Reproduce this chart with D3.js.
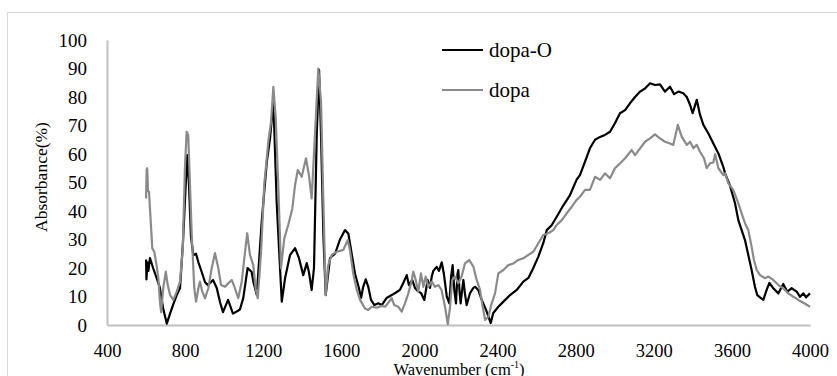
<!DOCTYPE html>
<html>
<head>
<meta charset="utf-8">
<script src="https://cdn.jsdelivr.net/npm/d3@7"></script>
<style>
    body { margin: 0; background: #fff; }
    #chart { width: 837px; height: 376px; }
</style>
</head>
<body>
<div id="chart"></div>
<script>
//VARIABLES
let seriesNames = ['dopa-O', 'dopa'];
let colors = ['#000000', '#8a8a8a'];
let xTicks = [400, 800, 1200, 1600, 2000, 2400, 2800, 3200, 3600, 4000];
let yTicks = [0, 10, 20, 30, 40, 50, 60, 70, 80, 90, 100];

//dopa-O: wavenumber / absorbance
let dopaOWn = [600, 602, 607, 612, 620, 636, 654, 671, 687, 706, 723, 738, 757, 774, 789, 803, 811, 820, 830, 842, 856, 868, 885, 902, 917, 943, 962, 979, 994, 1020, 1045, 1071, 1081, 1098, 1120, 1141, 1150, 1167, 1192, 1218, 1235, 1252, 1269, 1286, 1295, 1312, 1337, 1363, 1383, 1405, 1423, 1434, 1448, 1460, 1474, 1486, 1496, 1508, 1520, 1542, 1568, 1593, 1619, 1636, 1653, 1670, 1690, 1701, 1712, 1725, 1738, 1752, 1769, 1789, 1807, 1832, 1858, 1884, 1900, 1917, 1935, 1946, 1963, 1977, 1990, 2008, 2025, 2042, 2054, 2063, 2071, 2088, 2100, 2114, 2125, 2140, 2153, 2162, 2170, 2179, 2187, 2195, 2199, 2205, 2211, 2218, 2225, 2233, 2242, 2259, 2276, 2285, 2301, 2319, 2341, 2353, 2365, 2378, 2404, 2430, 2464, 2498, 2532, 2558, 2583, 2609, 2634, 2652, 2677, 2703, 2737, 2771, 2805, 2822, 2848, 2873, 2899, 2925, 2950, 2976, 3001, 3027, 3053, 3078, 3104, 3130, 3155, 3181, 3206, 3232, 3257, 3283, 3304, 3326, 3351, 3369, 3386, 3399, 3420, 3437, 3454, 3479, 3505, 3531, 3556, 3565, 3590, 3616, 3633, 3650, 3667, 3684, 3701, 3718, 3730, 3744, 3761, 3778, 3792, 3812, 3838, 3863, 3884, 3906, 3932, 3949, 3966, 3980, 4000];
let dopaOVal = [23, 16, 22, 19, 23.5, 20, 16.5, 13, 6, 0.5, 4, 7, 10.5, 13, 29, 49, 59.6, 49, 31, 24.5, 25, 22, 18.6, 15, 14, 15.8, 13, 8, 4.5, 8.8, 4, 5, 5.5, 9.5, 20, 18.6, 15, 10.5, 36, 57, 65.6, 78.4, 43, 20, 8.2, 16.5, 24.5, 27, 23.5, 17.5, 21.7, 18.6, 12.3, 20, 66.7, 89.5, 66.7, 31.6, 10.5, 23.5, 25, 30, 33.3, 32, 25, 18, 13, 9.5, 13.4, 16, 13.4, 8.8, 7, 7.6, 7, 9.5, 10.5, 11.6, 12.3, 14.7, 17.5, 14, 15.8, 13, 12, 11.2, 8.8, 15.8, 13, 17, 19, 20.4, 19, 22, 18, 10, 7.6, 17, 21, 12, 7.6, 18, 19.3, 12, 7.6, 12, 15.8, 11, 7, 11.2, 13, 13.4, 12.3, 8.8, 5.3, 3, 0.7, 4.2, 6.4, 8.2, 10.5, 12.3, 15.2, 16.5, 20, 24, 28.7, 33.3, 35, 38, 42, 45.6, 51, 52.6, 57.3, 62, 65, 66, 66.7, 67.8, 70.8, 74.3, 75.4, 77.8, 80, 81.9, 83, 84.8, 84.2, 84.4, 81.9, 83.6, 81, 81.9, 81.3, 80, 77.2, 74.3, 79, 73.7, 70.2, 67.3, 63.7, 60.2, 55.5, 53.2, 49, 42.7, 36.8, 33.3, 29.8, 24.6, 19.3, 13.4, 10.5, 9.7, 8.8, 12.3, 14.8, 12.9, 11.1, 14.4, 11.7, 12.9, 11.7, 9.9, 11.1, 9.7, 11.1];

//dopa: wavenumber / absorbance
let dopaWn = [600, 603, 606, 610, 615, 624, 632, 642, 654, 663, 671, 677, 688, 701, 711, 723, 740, 757, 774, 788, 799, 808, 816, 825, 834, 847, 856, 868, 876, 888, 902, 919, 936, 953, 970, 984, 1004, 1021, 1039, 1055, 1072, 1090, 1107, 1118, 1132, 1149, 1161, 1172, 1189, 1205, 1226, 1240, 1252, 1264, 1277, 1291, 1308, 1328, 1349, 1363, 1377, 1397, 1419, 1434, 1448, 1465, 1482, 1496, 1508, 1520, 1533, 1551, 1576, 1593, 1610, 1633, 1644, 1661, 1679, 1696, 1721, 1738, 1755, 1781, 1807, 1824, 1840, 1858, 1871, 1892, 1909, 1926, 1943, 1957, 1969, 1981, 1994, 2008, 2020, 2032, 2045, 2063, 2080, 2097, 2113, 2131, 2145, 2157, 2168, 2182, 2199, 2216, 2233, 2255, 2276, 2293, 2310, 2324, 2336, 2353, 2370, 2387, 2404, 2430, 2455, 2481, 2506, 2532, 2558, 2583, 2609, 2634, 2660, 2686, 2703, 2729, 2754, 2780, 2805, 2822, 2848, 2873, 2899, 2925, 2950, 2976, 3001, 3027, 3053, 3087, 3104, 3130, 3155, 3181, 3206, 3232, 3257, 3283, 3300, 3323, 3343, 3369, 3386, 3403, 3420, 3437, 3457, 3471, 3488, 3505, 3514, 3531, 3556, 3565, 3582, 3607, 3633, 3650, 3667, 3684, 3701, 3713, 3727, 3744, 3770, 3787, 3812, 3838, 3863, 3889, 3915, 3940, 3966, 4000];
let dopaVal = [44.4, 54.5, 55, 47, 46.8, 36.2, 26.9, 25.7, 21, 16.4, 8.2, 4.5, 12.9, 18.7, 14, 10.5, 8.8, 11.7, 15.2, 26.9, 55, 67.8, 66.7, 49, 31.6, 12.9, 8.2, 12.9, 15.2, 11.7, 9.4, 12.9, 19.9, 25.2, 19.9, 14, 13.4, 14.6, 15.8, 12.9, 9.4, 15.2, 25.7, 32.2, 24.6, 21, 12.9, 9.4, 25.7, 49.1, 64.3, 71.3, 83.6, 72.5, 49.1, 19.9, 30.4, 35.1, 40.9, 49.1, 54.4, 52, 58.5, 52.6, 44.4, 66.7, 90, 78.4, 43.3, 10.5, 21, 24.6, 25.7, 26, 26.3, 29.8, 26.3, 18.1, 12.3, 8.8, 5.8, 5.3, 6.4, 6.1, 6.7, 6.4, 7.8, 9.4, 7, 6.4, 4.7, 7.6, 11.1, 14.6, 18.7, 15.8, 11.7, 18.1, 13.4, 17, 13.4, 15.2, 13.4, 14, 12.3, 6.4, 0.3, 6.4, 15.8, 17, 14.6, 17, 21.6, 22.8, 20.5, 15.8, 12.3, 6.4, 1.8, 2.9, 7.6, 11.1, 18.1, 19.3, 21, 21.6, 22.8, 23.4, 24.6, 25.7, 28.7, 31.6, 32.2, 33.3, 35.1, 36.8, 39.2, 41.5, 43.9, 45, 47.4, 47.4, 52, 50.9, 53.2, 51.5, 55, 56.7, 58.5, 61.4, 59.6, 62, 64.3, 65.5, 66.9, 65.5, 64.3, 63.7, 63.2, 70.2, 66.1, 63.2, 64.3, 62, 63.2, 60.8, 58.5, 55, 56.7, 57, 60, 55, 52.6, 53.2, 49.7, 47.4, 42.7, 39.2, 35.7, 33.3, 27.5, 22.8, 19.3, 17.5, 16.4, 17, 15.8, 14, 12.9, 11.1, 9.9, 8.8, 7.8, 6.4];

//INIT
initSpectrum();

//FUNCTIONS
function initSpectrum() {
    let width = 837, height = 376;
    let margin = {top: 40, right: 27, bottom: 51, left: 107};
    let serif = "'Liberation Serif', 'DejaVu Serif', 'Noto Serif', 'Times New Roman', serif";

    //DATA
    let series = [
        {name: seriesNames[0], data: dopaOWn.map(function(d, i) { return {wn: d, value: dopaOVal[i]}; })},
        {name: seriesNames[1], data: dopaWn.map(function(d, i) { return {wn: d, value: dopaVal[i]}; })}
    ];

    let svg = d3.select('#chart')
        .append('svg')
            .attr('width', width)
            .attr('height', height)
            .attr('font-family', serif);

    //Outer frame
    svg.append('rect')
        .attr('x', 7.5)
        .attr('y', 12.5)
        .attr('width', 900)
        .attr('height', 500)
        .attr('fill', 'none')
        .attr('stroke', '#d9d9d9')
        .attr('stroke-width', 1);

    let chart = svg.append('g')
        .attr('transform', 'translate(' + margin.left + ',' + margin.top + ')');

    let w = width - margin.left - margin.right,
        h = height - margin.top - margin.bottom;

    let x = d3.scaleLinear().domain([400, 4000]).range([0, w]);
    let y = d3.scaleLinear().domain([0, 100]).range([h, 0]);

    //X Axis
    chart.append('g')
        .attr('transform', 'translate(0,' + h + ')')
        .call(d3.axisBottom(x).tickValues(xTicks).tickSize(0).tickPadding(19).tickFormat(d3.format('d')))
        .call(function(g) {
            g.attr('font-family', serif).attr('font-size', 18.5);
            g.select('.domain').attr('stroke', '#bfbfbf').attr('stroke-width', 2);
        });

    //Y Axis
    chart.append('g')
        .call(d3.axisLeft(y).tickValues(yTicks).tickSize(0).tickPadding(20))
        .call(function(g) {
            g.attr('font-family', serif).attr('font-size', 19);
            g.select('.domain').attr('stroke', '#bfbfbf').attr('stroke-width', 2);
        });

    //Lines
    let line = d3.line()
        .x(function(d) { return x(d.wn); })
        .y(function(d) { return y(d.value); });

    chart.selectAll('.line')
        .data(series)
        .enter()
        .append('path')
        .attr('class', 'line')
        .attr('fill', 'none')
        .attr('stroke', function(d, i) { return colors[i]; })
        .attr('stroke-width', 2.2)
        .attr('stroke-linejoin', 'round')
        .attr('d', function(d) { return line(d.data); });

    //Legend
    let legend = svg.selectAll('.legend')
        .data(seriesNames)
        .enter()
        .append('g')
        .attr('class', 'legend')
        .attr('transform', function(d, i) { return 'translate(442,' + (50 + i * 40) + ')'; });

    legend.append('line')
        .attr('x1', 0)
        .attr('x2', 41)
        .attr('stroke', function(d, i) { return colors[i]; })
        .attr('stroke-width', 2.2);

    legend.append('text')
        .attr('x', 47)
        .attr('y', 7)
        .attr('font-size', 21)
        .text(function(d) { return d; });

    //Axis titles
    let xTitle = svg.append('text')
        .attr('x', 459)
        .attr('y', 375)
        .attr('text-anchor', 'middle')
        .attr('font-size', 16.5);
    xTitle.append('tspan').text('Wavenumber (cm');
    xTitle.append('tspan').attr('font-size', 10).attr('dy', -7).text('-1');
    xTitle.append('tspan').attr('dy', 7).text(')');

    svg.append('text')
        .attr('transform', 'translate(47,177) rotate(-90)')
        .attr('text-anchor', 'middle')
        .attr('font-size', 17.5)
        .text('Absorbance(%)');
}
</script>
</body>
</html>
